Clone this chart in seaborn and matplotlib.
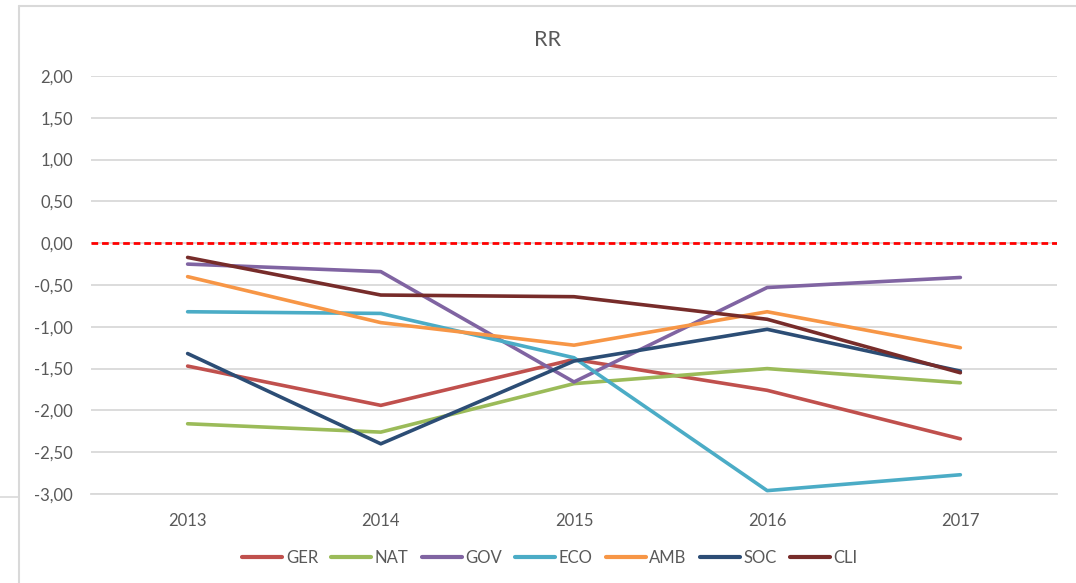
import pandas as pd
import matplotlib.pyplot as plt
import seaborn as sns
from matplotlib.lines import Line2D

# Data
years = ['2013', '2014', '2015', '2016', '2017']
ger = [-1.47, -1.94, -1.39, -1.76, -2.34]
nat = [-2.16, -2.26, -1.68, -1.50, -1.67]
gov = [-0.25, -0.34, -1.66, -0.53, -0.41]
eco = [-0.82, -0.84, -1.37, -2.96, -2.77]
amb = [-0.40, -0.95, -1.22, -0.82, -1.25]
soc = [-1.32, -2.40, -1.41, -1.03, -1.53]
cli = [-0.17, -0.62, -0.64, -0.91, -1.55]

series = ['GER', 'NAT', 'GOV', 'ECO', 'AMB', 'SOC', 'CLI']
colors = ['#C0504D', '#9BBB59', '#8064A2', '#4BACC6', '#F79646', '#2C4D75', '#772C2A']

wide = pd.DataFrame({'year': years, 'GER': ger, 'NAT': nat, 'GOV': gov, 'ECO': eco,
                     'AMB': amb, 'SOC': soc, 'CLI': cli})
df = wide.melt(id_vars='year', var_name='serie', value_name='valor')

sns.set_style('white')
plt.rcParams['font.family'] = ['Lato', 'DejaVu Sans']

fig = plt.figure(figsize=(10.76, 5.83), dpi=100)
ax = fig.add_axes([0.0846, 0.1527, 0.8977, 0.7169])

sns.lineplot(data=df, x='year', y='valor', hue='serie', hue_order=series,
             palette=colors, sort=False, linewidth=2.6, legend=False, ax=ax)
for ln in ax.get_lines():
    ln.set_solid_capstyle('round')

ax.axhline(0, color='#FF0000', linestyle=(0, (2.4, 1.4)), linewidth=2, zorder=3)

ax.set_xlim(-0.5, 4.5)
ax.set_ylim(-3, 2)
yt = [2, 1.5, 1, 0.5, 0, -0.5, -1, -1.5, -2, -2.5, -3]
ax.set_yticks(yt)
ax.set_yticklabels([f'{v:.2f}'.replace('.', ',') for v in yt])
ax.yaxis.grid(True, color='#D9D9D9', linewidth=1.3)
ax.set_axisbelow(True)
for s in ['top', 'right', 'left']:
    ax.spines[s].set_visible(False)
ax.spines['bottom'].set_color('#D9D9D9')
ax.spines['bottom'].set_linewidth(1.3)
ax.tick_params(axis='y', length=0, pad=13, labelsize=12, labelcolor='#595959')
ax.tick_params(axis='x', length=0, pad=14, labelsize=12, labelcolor='#595959')
ax.set_xlabel('')
ax.set_ylabel('')

fig.text(0.509, 0.932, 'RR', ha='center', va='center', fontsize=15.5, color='#595959')

handles = [Line2D([], [], color=c, linewidth=3, solid_capstyle='round') for c in colors]
fig.legend(handles, series, loc='center', bbox_to_anchor=(0.511, 0.043), ncol=7,
           frameon=False, fontsize=12, handlelength=2.4, handletextpad=0.2,
           columnspacing=0.8, labelcolor='#595959')

# chart frame
fig.add_artist(Line2D([19 / 1076, 19 / 1076], [0, 1 - 6 / 583], color='#D9D9D9', linewidth=1.5))
fig.add_artist(Line2D([19 / 1076, 1], [1 - 6 / 583, 1 - 6 / 583], color='#D9D9D9', linewidth=1.5))
fig.add_artist(Line2D([0, 18 / 1076], [1 - 497 / 583, 1 - 497 / 583], color='#D9D9D9', linewidth=1.2))

fig.savefig('out.png', dpi=100, facecolor='white')
